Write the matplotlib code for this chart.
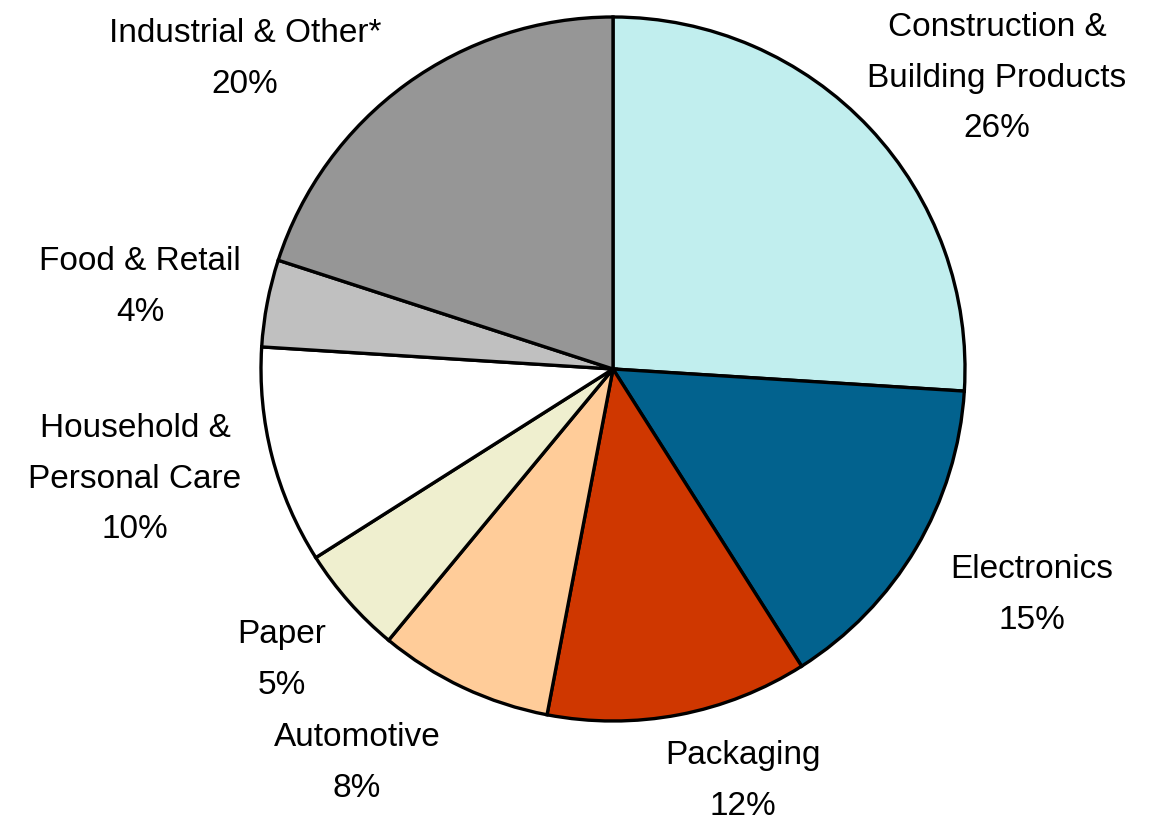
import matplotlib.pyplot as plt

# Sales by end market, share of total (%)
segments = ["Construction &\nBuilding Products", "Electronics", "Packaging",
            "Automotive", "Paper", "Household &\nPersonal Care",
            "Food & Retail", "Industrial & Other*"]
shares = [26, 15, 12, 8, 5, 10, 4, 20]
colors = ["#C1EEEE", "#02628E", "#CF3700", "#FFCC99", "#EFEFCF",
          "#FFFFFF", "#C0C0C0", "#969696"]

# label anchor points (pixels from top-left of the canvas)
label_xy = [(997, 78), (1032, 595), (743, 781), (357, 763),
            (282, 660), (135, 479), (140, 287), (245, 59)]

W, H = 1149, 825

fig = plt.figure(figsize=(W / 100, H / 100), dpi=100)
ax = fig.add_axes([0, 0, 1, 1])

ax.pie(shares, colors=colors, startangle=90, counterclock=False,
       center=(613, H - 369), radius=352,
       wedgeprops=dict(edgecolor="black", linewidth=2.4))

# pie() resets the view, so fix the canvas-sized limits afterwards
ax.set_xlim(0, W)
ax.set_ylim(0, H)
ax.set_aspect("equal")
ax.axis("off")

for name, pct, (x, y) in zip(segments, shares, label_xy):
    ax.text(x, H - y, f"{name}\n{pct}%", ha="center", va="center",
            fontsize=24, family="Liberation Sans", linespacing=1.82)

fig.savefig("out.png", dpi=100)
